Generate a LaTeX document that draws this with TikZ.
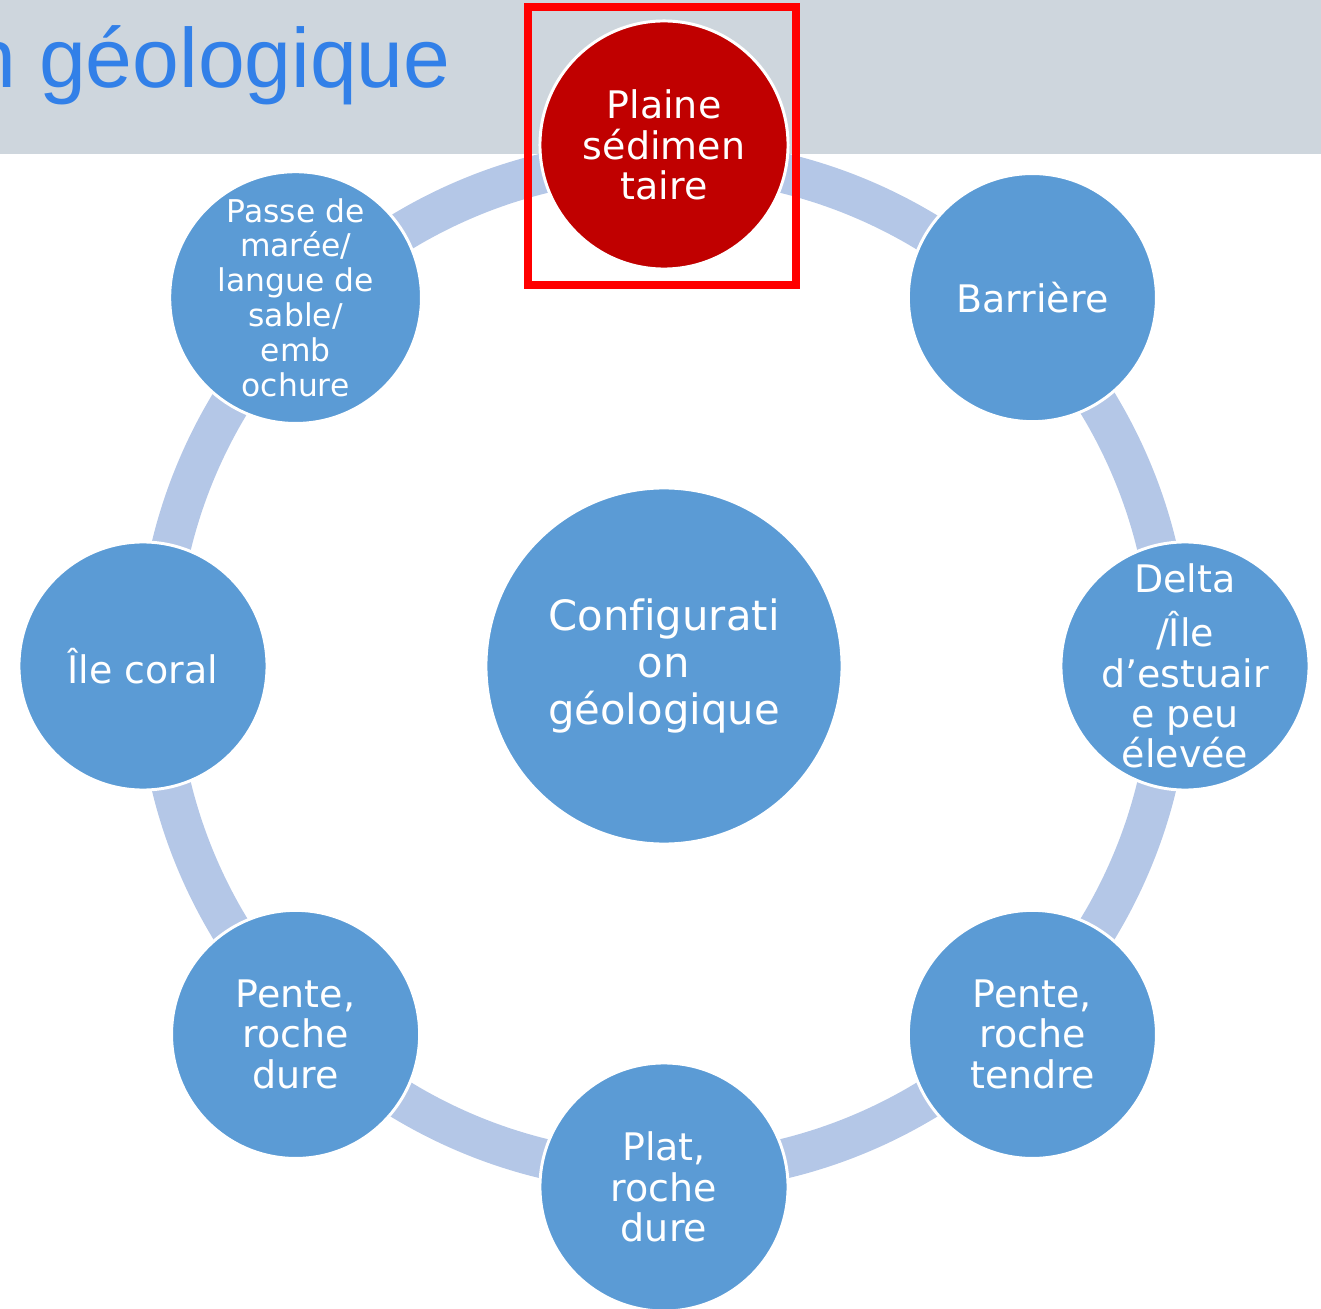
\documentclass[tikz,border=0pt]{standalone}
\usepackage{fontspec}
\setmainfont[Ligatures=NoCommon]{DejaVu Sans}
\newfontfamily\titrefont{Liberation Sans}

\definecolor{anneau}{RGB}{180,199,231}
\definecolor{bleunoeud}{RGB}{91,155,213}
\definecolor{rougenoeud}{RGB}{192,0,0}
\definecolor{bandeau}{RGB}{206,214,221}
\definecolor{titrebleu}{RGB}{50,128,232}

\begin{document}
\begin{tikzpicture}[x=0.025cm,y=0.025cm,
        bulle/.style={circle,fill=bleunoeud,draw=white,line width=2.1pt,
            minimum size=6.2cm,inner sep=0pt,text=white,align=center,
            font=\fontsize{27}{28.6}\selectfont},
        petit/.style={font=\fontsize{22.3}{24.8}\selectfont},
        centre/.style={bulle,minimum size=8.9cm,
            font=\fontsize{29.7}{33.3}\selectfont}]
        \useasboundingbox (-664,-642) rectangle (657,666);
        \clip (-664,-642) rectangle (657,666);

        % anneau derriere les bulles
        \draw[anneau,line width=28.3pt] (0,0) circle (507);

        % bandeau du titre
        \fill[bandeau] (-664,666) rectangle (657,512);
        \node[anchor=base east,inner sep=0pt,text=titrebleu,
            font=\titrefont\fontsize{59.8}{70}\selectfont] (titre) at (-213,578) {n géologique};

        % bulle centrale
        \node[centre] (config) at (0,0) {Configurati\\on\\géologique};

        % bulles autour
        \node[bulle,fill=rougenoeud] (plaine) at (90:521) {Plaine\\sédimen\\taire};
        \node[bulle] (barriere) at (45:521) {Barrière};
        \node[bulle,inner sep=-10pt] (delta) at (0:521) {Delta\\[10pt]/Île\\d’estuair\\e peu\\élevée};
        \node[bulle] (tendre) at (-45:521) {Pente,\\roche\\tendre};
        \node[bulle] (plat) at (-90:521) {Plat,\\roche\\dure};
        \node[bulle] (dure) at (-135:521) {Pente,\\roche\\dure};
        \node[bulle] (corail) at (180:521) {Île coral};
        \node[bulle,petit] (passe) at (135:521) {Passe de\\marée/\\langue de\\sable/\\emb\\ochure};

        % cadre rouge
        \draw[red,line width=5.7pt] (-136,659) rectangle (132,381);

    \end{tikzpicture}
\end{document}
